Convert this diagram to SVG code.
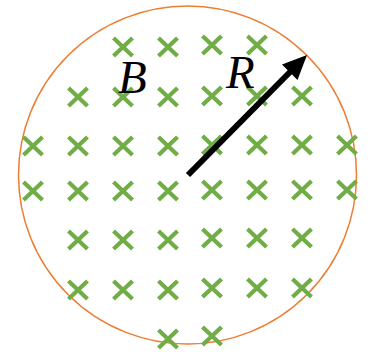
<svg xmlns="http://www.w3.org/2000/svg" xmlns:xlink="http://www.w3.org/1999/xlink" width="372" height="352" viewBox="0 0 372 352">
  <style>
    .x { stroke: #70AD47; stroke-width: 4.2; fill: none; }
    .lbl { font-family: "Liberation Serif", "DejaVu Serif", serif; font-style: italic; font-size: 47px; fill: #000; }
  </style>
  <defs>
    <path id="cr" class="x" d="M-9.5,-9 L9.5,9 M-9.5,9 L9.5,-9"/>
  </defs>
  <rect width="372" height="352" fill="#fff"/>
  <g id="region">
    <circle cx="187.5" cy="175" r="169" fill="none" stroke="#ED7D31" stroke-width="1.5"/>
  </g>
  <g id="field">
    <use xlink:href="#cr" x="123" y="47"/>
    <use xlink:href="#cr" x="168" y="47"/>
    <use xlink:href="#cr" x="212" y="45"/>
    <use xlink:href="#cr" x="257" y="45"/>

    <use xlink:href="#cr" x="78" y="97"/>
    <use xlink:href="#cr" x="123" y="97"/>
    <use xlink:href="#cr" x="168" y="97"/>
    <use xlink:href="#cr" x="212" y="96"/>
    <use xlink:href="#cr" x="257" y="96"/>
    <use xlink:href="#cr" x="302" y="96"/>

    <use xlink:href="#cr" x="33" y="146"/>
    <use xlink:href="#cr" x="78" y="146"/>
    <use xlink:href="#cr" x="123" y="146"/>
    <use xlink:href="#cr" x="168" y="146"/>
    <use xlink:href="#cr" x="212" y="145"/>
    <use xlink:href="#cr" x="257" y="145"/>
    <use xlink:href="#cr" x="302" y="145"/>
    <use xlink:href="#cr" x="347" y="145"/>

    <use xlink:href="#cr" x="33" y="191"/>
    <use xlink:href="#cr" x="78" y="191"/>
    <use xlink:href="#cr" x="123" y="191"/>
    <use xlink:href="#cr" x="168" y="191"/>
    <use xlink:href="#cr" x="212" y="190"/>
    <use xlink:href="#cr" x="257" y="190"/>
    <use xlink:href="#cr" x="302" y="190"/>
    <use xlink:href="#cr" x="347" y="190"/>

    <use xlink:href="#cr" x="78" y="240"/>
    <use xlink:href="#cr" x="123" y="240"/>
    <use xlink:href="#cr" x="168" y="240"/>
    <use xlink:href="#cr" x="212" y="238"/>
    <use xlink:href="#cr" x="257" y="238"/>
    <use xlink:href="#cr" x="302" y="238"/>

    <use xlink:href="#cr" x="78" y="290"/>
    <use xlink:href="#cr" x="123" y="290"/>
    <use xlink:href="#cr" x="168" y="290"/>
    <use xlink:href="#cr" x="212" y="288"/>
    <use xlink:href="#cr" x="257" y="288"/>
    <use xlink:href="#cr" x="302" y="288"/>

    <use xlink:href="#cr" x="168" y="339"/>
    <use xlink:href="#cr" x="212" y="336"/>
  </g>
  <g id="connectors">
    <line x1="188" y1="175" x2="292" y2="70" stroke="#000" stroke-width="6"/>
    <polygon points="307,55 297.5,80 282,64.5" fill="#000"/>
  </g>
  <g id="labels">
    <text class="lbl" x="118" y="93">B</text>
    <text class="lbl" x="226" y="88">R</text>
  </g>
</svg>
